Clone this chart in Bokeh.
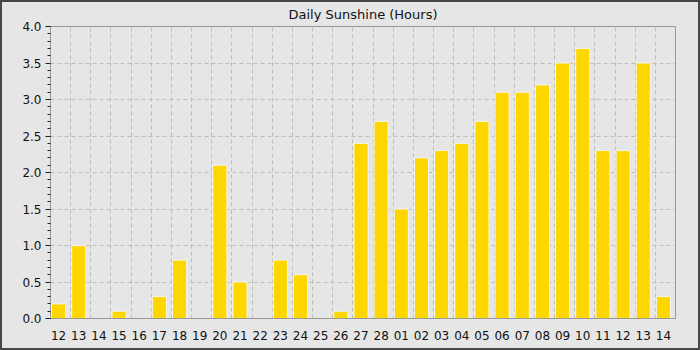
from bokeh.plotting import figure
from bokeh.models import FixedTicker, SingleIntervalTicker, NumeralTickFormatter, ColumnDataSource, Range1d, InlineStyleSheet
from bokeh.embed import file_html
from bokeh.resources import INLINE

days = ["12", "13", "14", "15", "16", "17", "18", "19", "20", "21", "22", "23", "24", "25", "26",
        "27", "28", "01", "02", "03", "04", "05", "06", "07", "08", "09", "10", "11", "12", "13", "14"]
sunshine = [0.2, 1.0, 0.0, 0.1, 0.0, 0.3, 0.8, 0.0, 2.1, 0.5, 0.0, 0.8, 0.6, 0.0, 0.1,
            2.4, 2.7, 1.5, 2.2, 2.3, 2.4, 2.7, 3.1, 3.1, 3.2, 3.5, 3.7, 2.3, 2.3, 3.5, 0.3]

n = len(days)
pos = [i + 0.4 for i in range(n)]
src = ColumnDataSource(dict(x=pos, top=sunshine, day=days))

bg = "#e6e6e6"
p = figure(width=700, height=350, output_backend="svg", toolbar_location=None,
           x_range=Range1d(0, n), y_range=Range1d(0, 4),
           title="Daily Sunshine (Hours)",
           min_border_left=50, min_border_right=25, min_border_top=0, min_border_bottom=32)
p.stylesheets = [InlineStyleSheet(css=":host { position: relative; } :host::after { content: ''; position: absolute; left: 0; top: 0; right: 0; bottom: 0; border: 2px solid #474747; pointer-events: none; z-index: 1000; }")]
p.background_fill_color = bg
p.border_fill_color = bg
p.outline_line_color = "#999999"
p.outline_line_width = 1

p.title.align = "center"
p.title.text_font = "DejaVu Sans"
p.title.text_font_size = "13px"
p.title.text_font_style = "normal"
p.title.text_color = "#111111"
p.title.standoff = 9
p.title.offset = 0

p.vbar(x="x", top="top", width=0.7, source=src, fill_color="#ffd700",
       line_color="#f4f4f4", line_width=1)

# axes
p.xaxis.ticker = FixedTicker(ticks=pos)
p.xaxis.major_label_overrides = {pos[i]: d for i, d in enumerate(days)}
p.xaxis.major_tick_line_color = None
p.xaxis.minor_tick_line_color = None
p.xaxis.axis_line_color = "#999999"
p.xaxis.major_label_standoff = 6

p.yaxis.ticker = SingleIntervalTicker(interval=0.5, num_minor_ticks=5)
p.yaxis.formatter = NumeralTickFormatter(format="0.0")
p.yaxis.axis_line_color = "#999999"
p.yaxis.major_tick_line_color = "#222222"
p.yaxis.minor_tick_line_color = "#222222"
p.yaxis.major_tick_out = 5
p.yaxis.major_tick_in = 0
p.yaxis.minor_tick_out = 3
p.yaxis.minor_tick_in = 0
p.yaxis.major_label_standoff = 4

for ax in (p.xaxis, p.yaxis):
    ax.major_label_text_font = "DejaVu Sans"
    ax.major_label_text_font_size = "12px"
    ax.major_label_text_color = "#111111"

# grids
p.xgrid.ticker = FixedTicker(ticks=list(range(1, n)))
p.xgrid.grid_line_color = "#bdbdbd"
p.xgrid.grid_line_dash = "4 3"
p.ygrid.grid_line_color = "#bdbdbd"
p.ygrid.grid_line_dash = "4 3"

open("out.html", "w").write(file_html(p, INLINE))
